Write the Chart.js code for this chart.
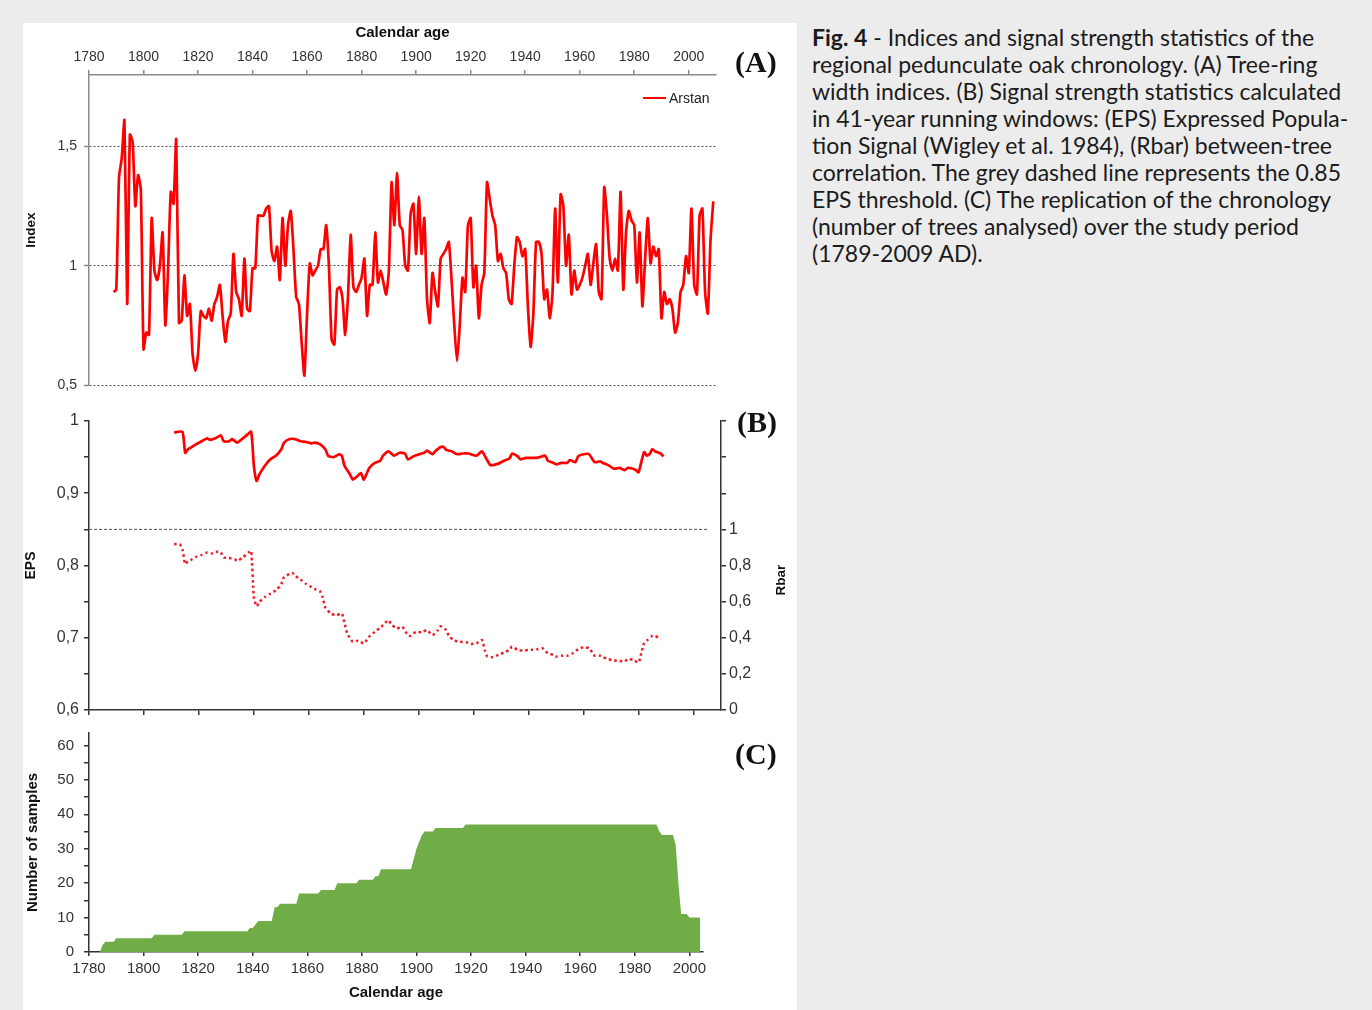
<!DOCTYPE html>
<html>
<head>
<meta charset="utf-8">
<script src="https://cdn.jsdelivr.net/npm/chart.js@4.4.0/dist/chart.umd.min.js"></script>
<style>
  body { margin: 0; width: 1372px; height: 1010px; background: #ececec; position: relative; overflow: hidden;
         font-family: 'Liberation Sans', Arial, sans-serif; }
  #panel { position: absolute; left: 23px; top: 23px; width: 774px; height: 987px; background: #fff; }
  #panel canvas { position: absolute; left: 0; }
  .tag { position: absolute; font-family: 'Liberation Serif', 'Times New Roman', serif; font-weight: bold;
         font-size: 30px; line-height: 30px; color: #111; }
  #legendA { position: absolute; left: 620px; top: 66px; font-size: 14px; line-height: 18px; color: #222; white-space: nowrap; }
  #legendA span.swatch { display: inline-block; width: 23px; height: 2px; background: #ff0000; vertical-align: middle; margin-right: 3px; position: relative; top: -1px; }
  #rbarTitle { position: absolute; left: 757px; top: 557px; font-size: 13.5px; font-weight: bold; color: #111;
               transform: translate(-50%, -50%) rotate(-90deg); white-space: nowrap; }
  #caption { position: absolute; left: 812px; top: 24px; font-family: Lato, 'Open Sans', sans-serif; font-size: 23px;
             line-height: 27px; color: #1b1b1b; }
  #caption div { white-space: nowrap; }
</style>
</head>
<body>
<div id="panel">
  <canvas id="chartA" width="774" height="372" style="top:0px"></canvas>
  <canvas id="chartB" width="774" height="330" style="top:372px"></canvas>
  <canvas id="chartC" width="774" height="285" style="top:702px"></canvas>
  <div class="tag" style="left:712px; top:24px">(A)</div>
  <div class="tag" style="left:714px; top:384px">(B)</div>
  <div class="tag" style="left:712px; top:716px">(C)</div>
  <div id="legendA"><span class="swatch"></span>Arstan</div>
  <div id="rbarTitle">Rbar</div>
</div>
<div id="caption">
  <div><b>Fig. 4</b> - Indices and signal strength statistics of the</div>
  <div>regional pedunculate oak chronology. (A) Tree-ring</div>
  <div>width indices. (B) Signal strength statistics calculated</div>
  <div>in 41-year running windows: (EPS) Expressed Popula-</div>
  <div>tion Signal (Wigley et al. 1984), (Rbar) between-tree</div>
  <div>correlation. The grey dashed line represents the 0.85</div>
  <div>EPS threshold. (C) The replication of the chronology</div>
  <div>(number of trees analysed) over the study period</div>
  <div>(1789-2009 AD).</div>
</div>
<script>
// (A) Arstan tree-ring width index, one value per year from 1789
const arstanStart = 1789;
const arstanIndex = [
  0.89, 0.90, 1.37, 1.45, 1.61, 0.84, 1.55, 1.52, 1.25, 1.38,
  1.32, 0.65, 0.72, 0.71, 1.20, 0.98, 0.94, 1.00, 1.14, 0.75,
  0.98, 1.31, 1.26, 1.53, 0.76, 0.77, 0.96, 0.79, 0.84, 0.63,
  0.56, 0.63, 0.81, 0.79, 0.78, 0.82, 0.77, 0.84, 0.87, 0.92,
  0.79, 0.68, 0.77, 0.80, 1.05, 0.89, 0.86, 0.79, 1.03, 0.82,
  0.81, 0.99, 0.99, 1.21, 1.21, 1.21, 1.24, 1.25, 1.06, 1.02,
  1.08, 0.94, 1.20, 1.00, 1.17, 1.23, 1.07, 0.87, 0.84, 0.68,
  0.54, 0.80, 1.01, 0.96, 0.98, 1.00, 1.07, 1.07, 1.17, 1.00,
  0.69, 0.67, 0.90, 0.91, 0.86, 0.71, 0.87, 1.13, 0.91, 0.89,
  0.92, 0.95, 1.03, 0.79, 0.92, 0.92, 1.14, 0.93, 0.98, 0.93,
  0.88, 0.98, 1.35, 1.17, 1.39, 1.17, 1.15, 1.00, 0.98, 1.22,
  1.26, 1.05, 1.29, 1.05, 1.20, 0.86, 0.76, 0.97, 0.89, 0.83,
  1.03, 1.05, 1.07, 1.10, 0.94, 0.75, 0.60, 0.75, 0.95, 0.89,
  1.17, 1.20, 0.91, 1.00, 0.78, 0.92, 0.97, 1.35, 1.28, 1.21,
  1.17, 1.02, 1.05, 0.99, 0.97, 0.86, 0.84, 1.00, 1.12, 1.10,
  1.04, 1.07, 0.83, 0.66, 0.80, 1.10, 1.10, 1.05, 0.86, 0.90,
  0.78, 0.88, 1.24, 0.93, 1.30, 1.25, 1.00, 1.13, 0.88, 0.98,
  0.90, 0.92, 0.95, 1.00, 1.05, 0.92, 1.01, 1.09, 0.89, 0.86,
  1.33, 1.21, 1.03, 0.98, 1.03, 0.98, 1.31, 0.90, 1.14, 1.23,
  1.19, 1.17, 0.93, 1.14, 0.83, 1.03, 1.20, 1.01, 1.08, 1.04,
  1.07, 0.78, 0.89, 0.84, 0.86, 0.82, 0.72, 0.76, 0.89, 0.92,
  1.04, 0.97, 1.24, 0.92, 0.88, 1.21, 1.24, 0.89, 0.80, 1.11,
  1.27
];

// (B) running EPS and Rbar
const epsYears = [1811, 1814, 1815, 1816, 1817, 1819, 1821, 1823, 1824, 1826, 1828, 1829, 1831, 1832, 1834, 1835, 1837, 1839,
  1840, 1841, 1842, 1844, 1846, 1848, 1850, 1851, 1853, 1855, 1857, 1859, 1861, 1862, 1864, 1866, 1867, 1869, 1871, 1872,
  1873, 1875, 1876, 1878, 1879, 1880, 1882, 1884, 1886, 1887, 1889, 1891, 1893, 1895, 1896, 1898, 1901, 1902, 1903, 1905,
  1906, 1908, 1909, 1910, 1912, 1914, 1916, 1918, 1919, 1921, 1923, 1924, 1926, 1927, 1929, 1931, 1933, 1934, 1936, 1937,
  1939, 1941, 1943, 1944, 1946, 1947, 1949, 1950, 1952, 1954, 1955, 1957, 1958, 1960, 1962, 1964, 1966, 1967, 1969, 1971,
  1973, 1975, 1976, 1978, 1979, 1980, 1982, 1983, 1984, 1985, 1986, 1988, 1989];
const epsValues = [0.984, 0.985, 0.956, 0.961, 0.963, 0.968, 0.972, 0.976, 0.974, 0.976, 0.980, 0.972, 0.972, 0.975, 0.970, 0.973, 0.979, 0.985,
  0.938, 0.917, 0.926, 0.938, 0.947, 0.952, 0.961, 0.970, 0.975, 0.975, 0.972, 0.971, 0.969, 0.970, 0.968, 0.961, 0.952, 0.950, 0.954, 0.952,
  0.938, 0.926, 0.919, 0.925, 0.928, 0.919, 0.935, 0.942, 0.945, 0.952, 0.958, 0.952, 0.956, 0.955, 0.947, 0.951, 0.955, 0.956, 0.959, 0.954,
  0.958, 0.964, 0.964, 0.960, 0.958, 0.954, 0.955, 0.955, 0.954, 0.952, 0.958, 0.952, 0.939, 0.939, 0.941, 0.945, 0.948, 0.955, 0.951, 0.947,
  0.949, 0.949, 0.949, 0.950, 0.952, 0.945, 0.942, 0.940, 0.942, 0.942, 0.946, 0.943, 0.951, 0.954, 0.954, 0.943, 0.944, 0.942, 0.939, 0.934,
  0.935, 0.932, 0.935, 0.934, 0.932, 0.929, 0.957, 0.952, 0.954, 0.961, 0.958, 0.955, 0.951];

const rbarYears = [1811, 1813, 1814, 1815, 1816, 1817, 1819, 1821, 1823, 1825, 1827, 1828, 1829, 1831, 1833, 1834, 1836, 1838, 1839,
  1840, 1841, 1842, 1844, 1846, 1848, 1850, 1851, 1854, 1855, 1857, 1859, 1861, 1862, 1864, 1865, 1866, 1868, 1870, 1872,
  1873, 1874, 1876, 1878, 1880, 1882, 1884, 1886, 1887, 1889, 1890, 1892, 1894, 1896, 1897, 1899, 1901, 1903, 1905, 1907,
  1908, 1910, 1911, 1913, 1915, 1918, 1919, 1921, 1923, 1924, 1925, 1927, 1929, 1931, 1933, 1934, 1936, 1938, 1940, 1941,
  1943, 1945, 1947, 1949, 1950, 1952, 1954, 1956, 1958, 1960, 1962, 1964, 1966, 1967, 1969, 1971, 1973, 1975, 1976, 1978,
  1980, 1981, 1982, 1983, 1985, 1986, 1988];
const rbarValues = [0.918, 0.918, 0.890, 0.808, 0.823, 0.830, 0.848, 0.859, 0.872, 0.867, 0.878, 0.872, 0.845, 0.841, 0.835, 0.826, 0.845, 0.872, 0.881,
  0.625, 0.574, 0.598, 0.625, 0.644, 0.662, 0.698, 0.735, 0.759, 0.744, 0.722, 0.698, 0.680, 0.671, 0.658, 0.625, 0.567, 0.534, 0.525, 0.534,
  0.479, 0.424, 0.378, 0.384, 0.369, 0.406, 0.433, 0.455, 0.470, 0.497, 0.475, 0.452, 0.461, 0.415, 0.410, 0.433, 0.430, 0.442, 0.415, 0.442,
  0.464, 0.442, 0.410, 0.384, 0.378, 0.373, 0.366, 0.369, 0.388, 0.333, 0.296, 0.293, 0.305, 0.318, 0.333, 0.351, 0.333, 0.329, 0.333, 0.333,
  0.336, 0.342, 0.314, 0.305, 0.296, 0.300, 0.300, 0.314, 0.336, 0.347, 0.342, 0.300, 0.300, 0.293, 0.282, 0.274, 0.272, 0.269, 0.282, 0.278,
  0.263, 0.314, 0.369, 0.384, 0.410, 0.410, 0.391];

const epsThreshold = 0.85;
const thresholdYears = [1780, 2005];

// (C) replication: number of samples per year (step breakpoints)
const sampleYears = [1784, 1785, 1786, 1789, 1790, 1803, 1804, 1814, 1815, 1838, 1839, 1840, 1841, 1842, 1847, 1848, 1849,
  1850, 1856, 1857, 1864, 1865, 1870, 1871, 1878, 1879, 1884, 1885, 1886, 1887, 1898, 1899, 1900, 1901, 1902, 1903, 1906,
  1907, 1917, 1918, 1988, 1989, 1990, 1994, 1995, 1996, 1997, 1999, 2000, 2004];
const sampleCounts = [0, 2, 3, 3, 4, 4, 5, 5, 6, 6, 7, 7, 8, 9, 9, 13, 13,
  14, 14, 17, 17, 18, 18, 20, 20, 21, 21, 22, 22, 24, 24, 27, 30, 32, 34, 35, 35,
  36, 36, 37, 37, 35, 34, 34, 31, 20, 11, 11, 10, 10];

Chart.defaults.font.family = "'Liberation Sans', Arial, sans-serif";
Chart.defaults.font.size = 14;
Chart.defaults.color = '#333';

const commaFmt = (v) => String(Math.round(v * 100) / 100).replace('.', ',');
const isTenth = (v) => Math.abs(v * 10 - Math.round(v * 10)) < 1e-6;
const axisTitle = (text, size, pad) => ({
    display: true, text: text, color: '#111', padding: pad,
    font: { size: size, weight: 'bold' },
});
// vertical axes: fixed width, and no extra label padding pushed into the layout
const fixWidth = (w) => (s) => { s.width = w; s.paddingTop = 0; s.paddingBottom = 0; };
const baseOptions = {
    responsive: false,
    animation: false,
    devicePixelRatio: 1,
    plugins: { legend: { display: false }, tooltip: { enabled: false } },
};

// Panel A - index
new Chart(document.getElementById('chartA'), {
    type: 'line',
    data: {
        datasets: [{
            label: 'Arstan',
            data: arstanIndex.map((v, i) => ({ x: arstanStart + i, y: v })),
            borderColor: '#ff0000',
            borderWidth: 2.7,
            pointRadius: 0,
            tension: 0.2,
        }]
    },
    options: {
        ...baseOptions,
        layout: { padding: { left: 0, right: 81, top: 0, bottom: 10 } },
        scales: {
            x: {
                type: 'linear', position: 'top', min: 1780, max: 2010,
                ticks: { stepSize: 20, includeBounds: false, autoSkip: false, maxRotation: 0, padding: 4, callback: (v) => String(v) },
                grid: { drawOnChartArea: false, tickLength: 5, color: '#8c8c8c', lineWidth: 1.5 },
                border: { color: '#8c8c8c', width: 1.5 },
                title: axisTitle('Calendar age', 15, { top: 1, bottom: 0 }),
                afterFit: (s) => { s.height = 52; },
            },
            y: {
                min: 0.5, max: 1.8,
                ticks: { stepSize: 0.5, includeBounds: false, autoSkip: false, padding: 7, callback: commaFmt },
                grid: { color: '#555', lineWidth: 1, tickLength: 5, tickColor: '#8c8c8c', tickWidth: 1.5 },
                border: { color: '#8c8c8c', width: 1.5, dash: [2, 2] },
                title: axisTitle('Index', 13.5, { top: 0, bottom: 0 }),
                afterFit: fixWidth(66),
            }
        }
    }
});

// Panel B - EPS and Rbar
new Chart(document.getElementById('chartB'), {
    type: 'line',
    data: {
        datasets: [{
            label: 'EPS',
            data: epsYears.map((yr, i) => ({ x: yr, y: epsValues[i] })),
            yAxisID: 'y',
            borderColor: '#ff0000',
            borderWidth: 2.7,
            pointRadius: 0,
            tension: 0.2,
        }, {
            label: 'Rbar',
            data: rbarYears.map((yr, i) => ({ x: yr, y: rbarValues[i] })),
            yAxisID: 'y1',
            borderColor: '#ee1c25',
            borderWidth: 2.5,
            borderDash: [2.5, 3],
            pointRadius: 0,
            tension: 0.2,
        }, {
            label: 'EPS threshold',
            data: thresholdYears.map((yr) => ({ x: yr, y: epsThreshold })),
            yAxisID: 'y',
            borderColor: '#555',
            borderWidth: 1,
            borderDash: [3, 2],
            pointRadius: 0,
        }]
    },
    options: {
        ...baseOptions,
        layout: { padding: { left: 0, right: 0, top: 26, bottom: 0 } },
        scales: {
            x: {
                type: 'linear', min: 1780, max: 2010,
                ticks: { stepSize: 20, includeBounds: false, autoSkip: false, display: false },
                grid: { drawOnChartArea: false, tickLength: 5, color: '#333', lineWidth: 1.5 },
                border: { color: '#333', width: 1.5 },
                afterFit: (s) => { s.height = 15; },
            },
            y: {
                position: 'left', min: 0.6, max: 1,
                ticks: { stepSize: 0.05, autoSkip: false, padding: 5, font: { size: 16 }, callback: (v) => isTenth(v) ? commaFmt(v) : '' },
                grid: { drawOnChartArea: false, tickLength: 5, color: '#333', lineWidth: 1.5 },
                border: { color: '#333', width: 1.5 },
                title: axisTitle('EPS', 14, { top: 0, bottom: 0 }),
                afterFit: fixWidth(66),
            },
            y1: {
                position: 'right', min: 0, max: 1.6,
                ticks: { stepSize: 0.2, autoSkip: false, padding: 3, font: { size: 16 }, callback: (v) => v <= 1.0001 ? commaFmt(v) : '' },
                grid: { drawOnChartArea: false, tickLength: 5, color: '#333', lineWidth: 1.5 },
                border: { color: '#333', width: 1.5 },
                afterFit: fixWidth(76),
            }
        }
    }
});

// Panel C - sample replication
new Chart(document.getElementById('chartC'), {
    type: 'line',
    data: {
        datasets: [{
            label: 'Number of samples',
            data: sampleYears.map((yr, i) => ({ x: yr, y: sampleCounts[i] })),
            fill: 'origin',
            backgroundColor: '#70ad47',
            borderColor: '#70ad47',
            borderWidth: 0,
            pointRadius: 0,
            tension: 0,
        }]
    },
    options: {
        ...baseOptions,
        layout: { padding: { left: 0, right: 94, top: 8, bottom: 0 } },
        scales: {
            x: {
                type: 'linear', min: 1780, max: 2005,
                ticks: { stepSize: 20, includeBounds: false, autoSkip: false, maxRotation: 0, padding: 4, font: { size: 15 }, callback: (v) => String(v) },
                grid: { drawOnChartArea: false, tickLength: 4, color: '#333', lineWidth: 1.5 },
                border: { color: '#333', width: 1.5 },
                title: axisTitle('Calendar age', 15, { top: 0, bottom: 8 }),
                afterFit: (s) => { s.height = 58; },
            },
            y: {
                min: 0, max: 63.6,
                ticks: { stepSize: 5, includeBounds: false, autoSkip: false, padding: 10, font: { size: 15 }, callback: (v) => v % 10 === 0 ? String(v) : '' },
                grid: { drawOnChartArea: false, tickLength: 5, color: '#333', lineWidth: 1.5 },
                border: { color: '#333', width: 1.5 },
                title: axisTitle('Number of samples', 15, { top: 1, bottom: 0 }),
                afterFit: fixWidth(66),
            }
        }
    }
});
</script>
</body>
</html>
